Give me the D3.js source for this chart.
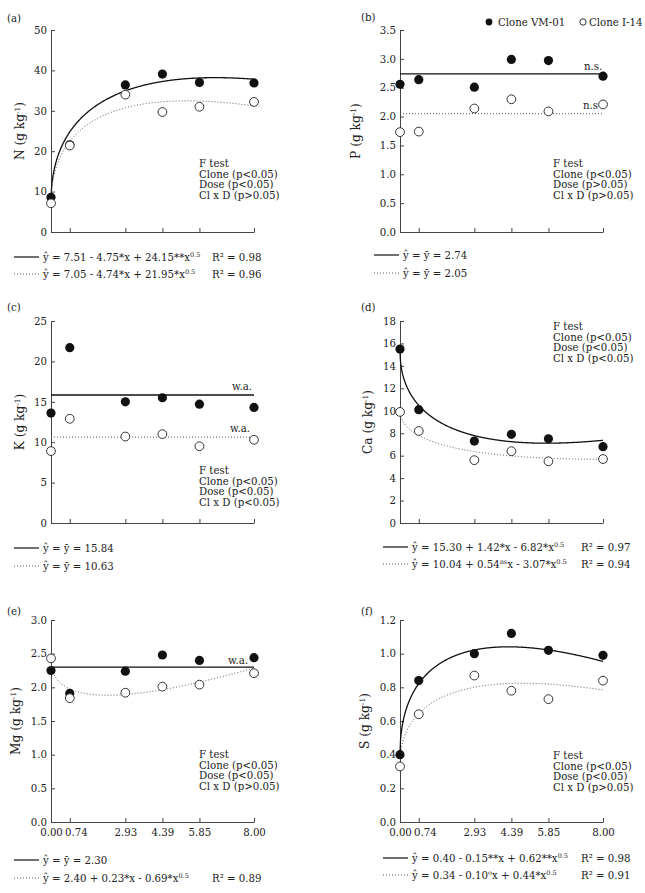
<!DOCTYPE html>
<html>
<head>
<meta charset="utf-8">
<script src="https://cdn.jsdelivr.net/npm/d3@7"></script>
<style>
  body { margin: 0; background: #fff; }
  svg text { font-family: "DejaVu Serif", serif; fill: #222; font-size: 10.2px; }
  svg text.ytitle { font-size: 12.2px; }
</style>
</head>
<body>
<script>
// doses (x) shared by every panel
var doses = [0, 0.74, 2.93, 4.39, 5.85, 8];
var doseLabels = ["0.00", "0.74", "2.93", "4.39", "5.85", "8.00"];

// leaf contents, clone VM-01 (filled) and clone I-14 (open)
var nVM   = [8.6, 21.6, 36.4, 39.1, 37.0, 36.9];
var nI14  = [7.1, 21.4, 34.0, 29.7, 31.0, 32.2];
var pVM   = [2.56, 2.64, 2.51, 2.99, 2.97, 2.70];
var pI14  = [1.73, 1.74, 2.14, 2.30, 2.09, 2.21];
var kVM   = [13.6, 21.7, 15.0, 15.5, 14.7, 14.3];
var kI14  = [8.9, 12.9, 10.7, 11.0, 9.5, 10.3];
var caVM  = [15.5, 10.1, 7.3, 7.9, 7.5, 6.8];
var caI14 = [9.9, 8.2, 5.6, 6.4, 5.5, 5.7];
var mgVM  = [2.25, 1.91, 2.24, 2.48, 2.40, 2.44];
var mgI14 = [2.43, 1.84, 1.92, 2.01, 2.04, 2.21];
var sVM   = [0.40, 0.84, 1.00, 1.12, 1.02, 0.99];
var sI14  = [0.33, 0.64, 0.87, 0.78, 0.73, 0.84];

// fitted models y = a + b*x + c*x^0.5  (coefficients as printed)
var nFitVM   = [7.51, -4.75, 24.15];
var nFitI14  = [7.05, -4.74, 21.95];
var caFitVM  = [15.30, 1.42, -6.82];
var caFitI14 = [10.04, 0.54, -3.07];
var mgFitI14 = [2.40, 0.23, -0.69];
var sFitVM   = [0.40, -0.15, 0.62];
var sFitI14  = [0.34, -0.10, 0.44];

// means (horizontal lines)
var pMean  = [2.74, 2.05];
var kMean  = [15.84, 10.63];
var mgMean = [2.30];

var W = 203, H = 202;

var svg = d3.select("body").append("svg")
    .attr("width", 645)
    .attr("height", 893);

// writes "text^{sup}" strings as tspans
function rich(sel, str, supSize) {
  var parts = str.split(/(\^\{[^}]*\})/);
  var up = false;
  parts.forEach(function(s) {
    if (!s) return;
    if (s.indexOf("^{") === 0) {
      sel.append("tspan").attr("font-size", supSize || "6.5px").attr("dy", -4).text(s.slice(2, -1));
      up = true;
    } else {
      sel.append("tspan").attr("dy", up ? 4 : null).text(s);
      up = false;
    }
  });
}

function model(c) {
  return d3.range(0, 8.0001, 0.02).map(function(v) {
    return [v, c[0] + c[1] * v + c[2] * Math.sqrt(v)];
  });
}

function panel(p) {
  var g = svg.append("g");
  var x = d3.scaleLinear().domain([0, 8]).range([p.left, p.left + W]);
  var y = d3.scaleLinear().domain([0, p.max]).range([p.top + H, p.top]);

  var yAxis = d3.axisLeft(y).tickValues(d3.range(0, p.max + p.step / 2, p.step))
      .tickSizeInner(-4).tickSizeOuter(0).tickPadding(4).tickFormat(d3.format(p.fmt));
  var ya = g.append("g").attr("transform", "translate(" + p.left + ",0)").call(yAxis);

  var xAxis = d3.axisBottom(x).tickValues(doses)
      .tickSizeInner(-4).tickSizeOuter(0).tickPadding(7)
      .tickFormat(function(d, i) { return p.xlabels ? doseLabels[i] : ""; });
  var xa = g.append("g").attr("transform", "translate(0," + (p.top + H) + ")").call(xAxis);
  xa.selectAll(".tick text").filter(function(d) { return d === 0.74; }).attr("dx", 6);

  [ya, xa].forEach(function(a) {
    a.attr("font-size", null).attr("font-family", null);
    a.select(".domain").attr("stroke", "#444");
    a.selectAll(".tick line").attr("stroke", "#444");
    a.selectAll("text").attr("fill", "#222");
  });

  // panel letter
  g.append("text").attr("x", p.lx).attr("y", p.ly).text(p.letter);

  // y title
  var yt = g.append("text")
      .attr("class", "ytitle")
      .attr("transform", "translate(" + p.tx + "," + (p.top + H / 2) + ") rotate(-90)")
      .attr("text-anchor", "middle");
  rich(yt, p.title, "7.5px");

  // fits
  var line = d3.line().x(function(d) { return x(d[0]); }).y(function(d) { return y(d[1]); });
  p.fits.forEach(function(f, i) {
    var pts = f.length === 3 ? model(f) : [[0, f[0]], [8, f[0]]];
    g.append("path").attr("d", line(pts)).attr("fill", "none")
        .attr("stroke", i === 0 ? "#111" : "#555")
        .attr("stroke-width", i === 0 ? 1.3 : 1)
        .attr("stroke-dasharray", i === 0 ? null : "1,2");
  });

  // notes (n.s., w.a.)
  (p.notes || []).forEach(function(n) {
    g.append("text").attr("x", n[0]).attr("y", n[1]).text(n[2]);
  });

  // F test block
  p.ftest.forEach(function(t, i) {
    g.append("text").attr("x", p.fx).attr("y", p.fy + i * 10.7).text(t);
  });

  // points: filled first, open on top
  g.selectAll(".vm").data(p.vm).enter().append("circle")
      .attr("class", "vm")
      .attr("cx", function(d, i) { return x(doses[i]); })
      .attr("cy", function(d) { return y(d); })
      .attr("r", 4.6).attr("fill", "#111");
  g.selectAll(".i14").data(p.i14).enter().append("circle")
      .attr("class", "i14")
      .attr("cx", function(d, i) { return x(doses[i]); })
      .attr("cy", function(d) { return y(d); })
      .attr("r", 4.4).attr("fill", "#fff").attr("stroke", "#333").attr("stroke-width", 1);

  // equation legend
  p.eqs.forEach(function(e, i) {
    var yy = p.ey[i];
    g.append("line").attr("x1", p.ex).attr("x2", p.ex + 25).attr("y1", yy).attr("y2", yy)
        .attr("stroke", i === 0 ? "#111" : "#555")
        .attr("stroke-width", i === 0 ? 1.2 : 1)
        .attr("stroke-dasharray", i === 0 ? null : "1,2");
    var t = g.append("text").attr("x", p.ex + 29).attr("y", yy + 4);
    rich(t, e[0]);
    if (e[1]) {
      var r = g.append("text").attr("x", p.rx).attr("y", yy + 4);
      rich(r, e[1]);
    }
  });
}

var ftA = ["F test", "Clone (p<0.05)", "Dose (p<0.05)", "Cl x D (p>0.05)"];

panel({ letter: "(a)", left: 51, top: 30, max: 50, step: 10, fmt: "d",
  lx: 7, ly: 22, tx: 24, title: "N (g kg^{-1})",
  vm: nVM, i14: nI14, fits: [nFitVM, nFitI14],
  ftest: ftA, fx: 199, fy: 167,
  ex: 14, ey: [257, 274], rx: 212,
  eqs: [["\u0177 = 7.51 - 4.75*x + 24.15**x^{0.5}", "R\u00b2 = 0.98"],
        ["\u0177 = 7.05 - 4.74*x + 21.95*x^{0.5}", "R\u00b2 = 0.96"]] });

panel({ letter: "(b)", left: 400, top: 30, max: 3.5, step: 0.5, fmt: ".1f",
  lx: 361, ly: 21, tx: 360, title: "P (g kg^{-1})",
  vm: pVM, i14: pI14, fits: [[pMean[0]], [pMean[1]]],
  notes: [[584, 70, "n.s."], [583, 109, "n.s"]],
  ftest: ["F test", "Clone (p<0.05)", "Dose (p>0.05)", "Cl x D (p>0.05)"], fx: 553, fy: 167,
  ex: 374, ey: [255, 273], rx: 0,
  eqs: [["\u0177 = \u0233 = 2.74"], ["\u0177 = \u0233 = 2.05"]] });

panel({ letter: "(c)", left: 51, top: 321, max: 25, step: 5, fmt: "d",
  lx: 7, ly: 311, tx: 24, title: "K (g kg^{-1})",
  vm: kVM, i14: kI14, fits: [[kMean[0]], [kMean[1]]],
  notes: [[232, 390, "w.a."], [230, 432, "w.a."]],
  ftest: ["F test", "Clone (p<0.05)", "Dose (p<0.05)", "Cl x D (p<0.05)"], fx: 199, fy: 474,
  ex: 14, ey: [548, 566], rx: 0,
  eqs: [["\u0177 = \u0233 = 15.84"], ["\u0177 = \u0233 = 10.63"]] });

panel({ letter: "(d)", left: 400, top: 321, max: 18, step: 2, fmt: "d",
  lx: 361, ly: 311, tx: 372, title: "Ca (g  kg^{-1})",
  vm: caVM, i14: caI14, fits: [caFitVM, caFitI14],
  ftest: ["F test", "Clone (p<0.05)", "Dose (p<0.05)", "Cl x D (p<0.05)"], fx: 553, fy: 330,
  ex: 383, ey: [547, 564], rx: 581,
  eqs: [["\u0177 = 15.30 + 1.42*x - 6.82*x^{0.5}", "R\u00b2 = 0.97"],
        ["\u0177 = 10.04 + 0.54^{ns}x - 3.07*x^{0.5}", "R\u00b2 = 0.94"]] });

panel({ letter: "(e)", left: 51, top: 620, max: 3, step: 0.5, fmt: ".1f", xlabels: true,
  lx: 7, ly: 615, tx: 20, title: "Mg (g kg^{-1})",
  vm: mgVM, i14: mgI14, fits: [[mgMean[0]], mgFitI14],
  notes: [[228, 664, "w.a."]],
  ftest: ftA, fx: 199, fy: 758,
  ex: 14, ey: [860, 878], rx: 212,
  eqs: [["\u0177 = \u0233 = 2.30"],
        ["\u0177 = 2.40 + 0.23*x - 0.69*x^{0.5}", "R\u00b2 = 0.89"]] });

panel({ letter: "(f)", left: 400, top: 620, max: 1.2, step: 0.2, fmt: ".1f", xlabels: true,
  lx: 361, ly: 615, tx: 369, title: "S (g kg^{-1})",
  vm: sVM, i14: sI14, fits: [sFitVM, sFitI14],
  ftest: ftA, fx: 553, fy: 759,
  ex: 383, ey: [858, 875], rx: 581,
  eqs: [["\u0177 = 0.40 - 0.15**x + 0.62**x^{0.5}", "R\u00b2 = 0.98"],
        ["\u0177 = 0.34 - 0.10^{o}x + 0.44*x^{0.5}", "R\u00b2 = 0.91"]] });

// series legend in panel (b)
var lg = svg.append("g");
lg.append("circle").attr("cx", 489).attr("cy", 22).attr("r", 3.4).attr("fill", "#111");
lg.append("text").attr("x", 498).attr("y", 26).text("Clone VM-01");
lg.append("circle").attr("cx", 583).attr("cy", 22).attr("r", 3.2).attr("fill", "#fff")
    .attr("stroke", "#333").attr("stroke-width", 1);
lg.append("text").attr("x", 589).attr("y", 26).text("Clone I-14");
</script>
</body>
</html>
